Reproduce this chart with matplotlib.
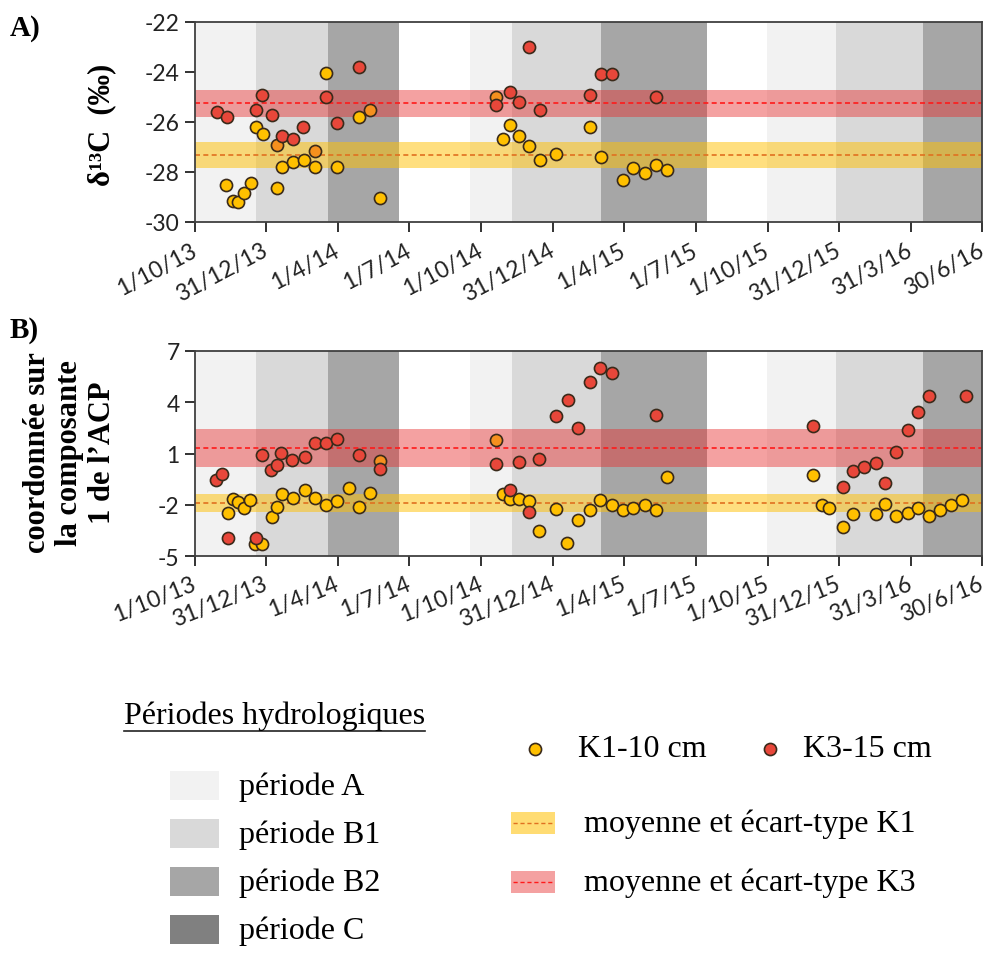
import matplotlib
matplotlib.use('Agg')
import matplotlib.pyplot as plt
import matplotlib.patches as mpatches
import pandas as pd

W, H = 988, 954

# axe des dates
tick_dates = ['2013-10-01', '2013-12-31', '2014-04-01', '2014-07-01', '2014-10-01', '2014-12-31',
              '2015-04-01', '2015-07-01', '2015-10-01', '2015-12-31', '2016-03-31', '2016-06-30']
tick_labels = ['1/10/13', '31/12/13', '1/4/14', '1/7/14', '1/10/14', '31/12/14',
               '1/4/15', '1/7/15', '1/10/15', '31/12/15', '31/3/16', '30/6/16']

# périodes hydrologiques (fond)
period_start = ['2013-10-01', '2013-12-18', '2014-03-20', '2014-09-16', '2014-11-09', '2015-03-03',
                '2015-09-30', '2015-12-27', '2016-04-16']
period_end = ['2013-12-18', '2014-03-20', '2014-06-18', '2014-11-09', '2015-03-03', '2015-07-16',
              '2015-12-27', '2016-04-16', '2016-06-30']
period_kind = ['A', 'B1', 'B2', 'A', 'B1', 'B2', 'A', 'B1', 'B2']
period_names = ['A', 'B1', 'B2', 'C']

# A) delta 13C
a_k1_dates = ['2013-11-10', '2013-11-19', '2013-11-25', '2013-12-02', '2013-12-11', '2013-12-18',
              '2013-12-27', '2014-01-14', '2014-01-20', '2014-02-03', '2014-02-17', '2014-03-03',
              '2014-03-17', '2014-03-31', '2014-04-28', '2014-05-25', '2014-10-29', '2014-11-06',
              '2014-11-18', '2014-12-01', '2014-12-15', '2015-01-04', '2015-02-16', '2015-03-03',
              '2015-03-30', '2015-04-12', '2015-04-27', '2015-05-12', '2015-05-26']
a_k1_vals = [-28.50, -29.16, -29.18, -28.82, -28.42, -26.21,
             -26.48, -28.62, -27.81, -27.60, -27.50, -27.81,
             -24.05, -27.79, -25.81, -29.03, -26.68, -26.13,
             -26.56, -26.97, -27.50, -27.28, -26.21, -27.40,
             -28.32, -27.82, -28.02, -27.70, -27.90]
a_k3_dates = ['2013-10-29', '2013-11-11', '2013-12-18', '2013-12-26', '2014-01-07', '2014-01-20',
              '2014-02-03', '2014-02-16', '2014-03-17', '2014-03-31', '2014-04-28', '2014-10-20',
              '2014-11-06', '2014-11-18', '2014-12-01', '2014-12-15', '2015-02-16', '2015-03-03',
              '2015-03-16', '2015-05-12']
a_k3_vals = [-25.60, -25.80, -25.50, -24.90, -25.71, -26.56,
             -26.66, -26.20, -24.99, -26.03, -23.78, -25.31,
             -24.78, -25.20, -23.01, -25.50, -24.90, -24.07,
             -24.07, -25.00]
# points K1 et K3 superposés (apparaissent orange)
a_mix_dates = ['2014-01-13', '2014-03-03', '2014-05-12', '2014-10-20']
a_mix_vals = [-26.90, -27.17, -25.50, -25.00]
a_k1_stats = [-27.315, 0.525]   # moyenne, écart-type
a_k3_stats = [-25.255, 0.535]

# B) coordonnée sur la composante 1 de l'ACP
b_k1_dates = ['2013-11-12', '2013-11-18', '2013-11-25', '2013-12-03', '2013-12-10', '2013-12-17',
              '2013-12-26', '2014-01-07', '2014-01-13', '2014-01-20', '2014-02-03', '2014-02-18',
              '2014-03-03', '2014-03-17', '2014-03-31', '2014-04-15', '2014-04-28', '2014-05-12',
              '2014-10-29', '2014-11-06', '2014-11-18', '2014-12-01', '2014-12-14', '2015-01-04',
              '2015-01-18', '2015-02-01', '2015-02-16', '2015-03-01', '2015-03-16', '2015-03-30',
              '2015-04-12', '2015-04-27', '2015-05-11', '2015-05-25', '2015-11-28', '2015-12-09',
              '2015-12-18', '2016-01-05', '2016-01-17', '2016-02-16', '2016-02-28', '2016-03-12',
              '2016-03-28', '2016-04-09', '2016-04-24', '2016-05-08', '2016-05-21', '2016-06-05']
b_k1_vals = [-2.46, -1.68, -1.84, -2.17, -1.70, -4.32,
             -4.28, -2.72, -2.11, -1.35, -1.58, -1.16,
             -1.58, -2.02, -1.78, -1.00, -2.11, -1.29,
             -1.35, -1.64, -1.64, -1.78, -3.54, -2.23,
             -4.22, -2.91, -2.31, -1.70, -2.03, -2.31,
             -2.17, -2.03, -2.31, -0.38, -0.24, -2.02,
             -2.17, -3.30, -2.56, -2.56, -1.93, -2.64,
             -2.48, -2.17, -2.64, -2.31, -2.03, -1.70]
b_k3_dates = ['2013-10-28', '2013-11-04', '2013-11-12', '2013-12-18', '2013-12-26', '2014-01-06',
              '2014-01-13', '2014-01-19', '2014-02-02', '2014-02-18', '2014-03-03', '2014-03-17',
              '2014-03-31', '2014-04-28', '2014-05-25', '2014-10-20', '2014-11-06', '2014-11-18',
              '2014-12-01', '2014-12-14', '2015-01-04', '2015-01-19', '2015-02-01', '2015-02-16',
              '2015-03-01', '2015-03-16', '2015-05-11', '2015-11-28', '2016-01-05', '2016-01-17',
              '2016-01-31', '2016-02-16', '2016-02-28', '2016-03-12', '2016-03-28', '2016-04-09',
              '2016-04-24', '2016-06-10']
b_k3_vals = [-0.53, -0.22, -3.97, -3.93, 0.89, 0.06,
             0.33, 1.05, 0.60, 0.79, 1.63, 1.60,
             1.87, 0.89, 0.07, 0.39, -1.12, 0.52,
             -2.41, 0.66, 3.18, 4.11, 2.47, 5.19,
             5.99, 5.69, 3.24, 2.63, -0.96, 0.00,
             0.23, 0.47, -0.73, 1.11, 2.40, 3.45,
             4.35, 4.35]
b_mix_dates = ['2014-05-25', '2014-10-20']
b_mix_vals = [0.56, 1.79]
b_k1_stats = [-1.89, 0.52]
b_k3_stats = [1.31, 1.12]

# couleurs
period_colors = {'A': '#F2F2F2', 'B1': '#D9D9D9', 'B2': '#A6A6A6', 'C': '#808080'}
k1_color = '#FFC000'
k3_color = '#E8473A'
mix_color = '#F5901E'
edge_color = '#3A2A1A'

plt.rcParams['font.family'] = ['Lato', 'DejaVu Sans']
plt.rcParams['axes.unicode_minus'] = False
serif = ['Liberation Serif', 'DejaVu Serif']
MS = 76

fig = plt.figure(figsize=(W / 100, H / 100), dpi=100)


def px_axes(left, top, right, bottom):
    return fig.add_axes([left / W, 1 - bottom / H, (right - left) / W, (bottom - top) / H])


def draw_panel(ax, k1_d, k1_v, k3_d, k3_v, mix_d, mix_v, k1_stats, k3_stats, ylim, yticks, rot):
    for s, e, k in zip(period_start, period_end, period_kind):
        ax.axvspan(pd.Timestamp(s), pd.Timestamp(e), color=period_colors[k], lw=0, zorder=0)
    m, sd = k1_stats
    ax.axhspan(m - sd, m + sd, color=k1_color, alpha=0.5, lw=0, zorder=1)
    ax.axhline(m, color='#E07020', lw=1.2, ls=(0, (3, 2)), zorder=2)
    m, sd = k3_stats
    ax.axhspan(m - sd, m + sd, color='#E83030', alpha=0.45, lw=0, zorder=1)
    ax.axhline(m, color='#FF1A1A', lw=1.2, ls=(0, (3, 2)), zorder=2)

    ax.scatter(pd.to_datetime(k1_d), k1_v, s=MS, color=k1_color, edgecolor=edge_color, lw=1.2, zorder=3)
    ax.scatter(pd.to_datetime(mix_d), mix_v, s=MS, color=mix_color, edgecolor=edge_color, lw=1.2, zorder=4)
    ax.scatter(pd.to_datetime(k3_d), k3_v, s=MS, color=k3_color, edgecolor=edge_color, lw=1.2, zorder=5)

    ax.set_xlim(pd.Timestamp(tick_dates[0]), pd.Timestamp(tick_dates[-1]))
    ax.set_ylim(*ylim)
    ax.set_yticks(yticks)
    ax.set_xticks(pd.to_datetime(tick_dates))
    ax.set_xticklabels(tick_labels, rotation=rot, ha='right', va='center', rotation_mode='anchor')
    ax.tick_params(axis='both', labelsize=16.5, colors='#222222', length=7, width=1.3, direction='out')
    ax.tick_params(axis='x', pad=12)
    ax.tick_params(axis='y', pad=4)
    for sp in ax.spines.values():
        sp.set_color('#404040')
        sp.set_linewidth(1.3)


axA = px_axes(195, 23, 982, 223)
draw_panel(axA, a_k1_dates, a_k1_vals, a_k3_dates, a_k3_vals, a_mix_dates, a_mix_vals,
           a_k1_stats, a_k3_stats, (-30, -22), [-30, -28, -26, -24, -22], 28)

axB = px_axes(195, 352, 982, 557)
draw_panel(axB, b_k1_dates, b_k1_vals, b_k3_dates, b_k3_vals, b_mix_dates, b_mix_vals,
           b_k1_stats, b_k3_stats, (-5, 7), [-5, -2, 1, 4, 7], 22)

# calque en pixels pour les textes et la légende
lax = fig.add_axes([0, 0, 1, 1], zorder=-1)
lax.set_xlim(0, W)
lax.set_ylim(H, 0)
lax.axis('off')

lax.text(10, 29, 'A)', family=serif, weight='bold', fontsize=21, va='center', ha='left')
lax.text(10, 331, 'B)', family=serif, weight='bold', fontsize=21, va='center', ha='left')
lax.text(102, 125, 'δ¹³C  (‰)', family=serif, weight='bold', fontsize=22, rotation=90,
         va='center', ha='center')
lax.text(70, 453, 'coordonnée sur\nla composante\n1 de l’ACP', family=serif, weight='bold',
         fontsize=22, rotation=90, va='center', ha='center', multialignment='center', linespacing=1.15)

# légende des périodes
FS = 23
title = lax.text(124, 716, 'Périodes hydrologiques', family=serif, fontsize=FS, va='center', ha='left')
patch_tops = [772, 820, 868, 916]
for name, top in zip(period_names, patch_tops):
    lax.add_patch(mpatches.Rectangle((170, top), 49, 29, facecolor=period_colors[name],
                                     edgecolor='none'))
    lax.text(239, top + 15, 'période ' + name, family=serif, fontsize=FS, va='center', ha='left')

fig.canvas.draw()
bb = title.get_window_extent()
lax.plot([bb.x0, bb.x1], [H - bb.y0 + 1, H - bb.y0 + 1], color='#222222', lw=1.2)

# légende des séries
lax.scatter([535], [750], s=MS, color=k1_color, edgecolor=edge_color, lw=1.2)
lax.text(578, 750, 'K1-10 cm', family=serif, fontsize=FS, va='center', ha='left')
lax.scatter([770], [750], s=MS, color=k3_color, edgecolor=edge_color, lw=1.2)
lax.text(803, 750, 'K3-15 cm', family=serif, fontsize=FS, va='center', ha='left')

lax.add_patch(mpatches.Rectangle((511, 813), 44, 22, facecolor=k1_color, alpha=0.55, edgecolor='none'))
lax.plot([513, 553], [824, 824], color='#E07020', lw=1.0, ls=(0, (3, 2)))
lax.text(584, 824, 'moyenne et écart-type K1', family=serif, fontsize=FS, va='center', ha='left')
lax.add_patch(mpatches.Rectangle((511, 872), 44, 22, facecolor='#E83030', alpha=0.45, edgecolor='none'))
lax.plot([513, 553], [883, 883], color='#FF1A1A', lw=1.0, ls=(0, (3, 2)))
lax.text(584, 883, 'moyenne et écart-type K3', family=serif, fontsize=FS, va='center', ha='left')

fig.savefig('out.png', dpi=100)
